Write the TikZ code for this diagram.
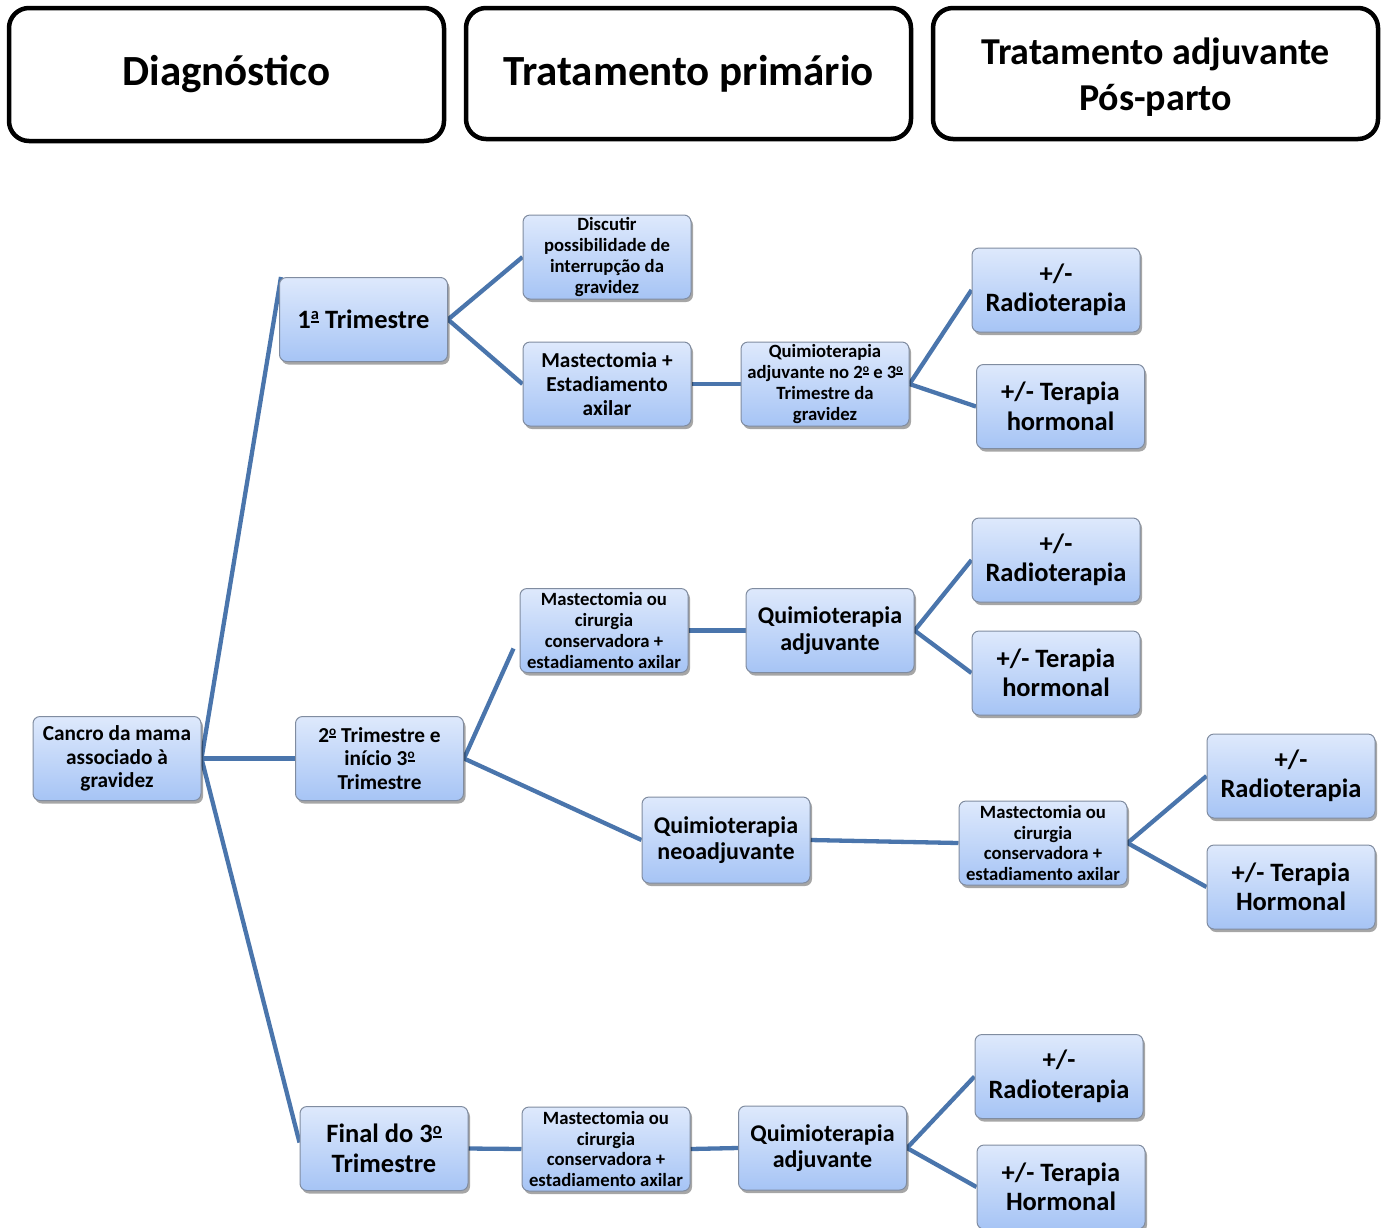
\documentclass[tikz,border=0pt]{standalone}
\usepackage{fontspec}
\usepackage{graphicx}
\setmainfont{Carlito}
\usetikzlibrary{shadows,backgrounds,calc}
\definecolor{topc}{RGB}{222,233,252}
\definecolor{botc}{RGB}{166,196,245}
\definecolor{edgec}{RGB}{128,140,160}
\definecolor{linec}{RGB}{74,117,172}
\newcommand{\ordm}{\raisebox{0.2em}{\scalebox{0.62}{\vbox{\hbox{o}\kern0.08em\hrule height 0.13em}}}}
\newcommand{\orda}{\raisebox{0.2em}{\scalebox{0.62}{\vbox{\hbox{a}\kern0.08em\hrule height 0.13em}}}}
\tikzset{
  box/.style={rounded corners=7pt, draw=edgec, line width=1pt, top color=topc, bottom color=botc,
    minimum width=168pt, minimum height=84pt, align=center, inner sep=0pt, text=black,
    drop shadow={shadow xshift=2pt, shadow yshift=-3pt, fill=black, opacity=0.35}},
  smallt/.style={font=\bfseries\fontsize{18.7}{20.7}\selectfont},
  medt/.style={font=\bfseries\fontsize{21.3}{23.7}\selectfont},
  quimt/.style={font=\bfseries\fontsize{24}{26.5}\selectfont},
  bigt/.style={font=\bfseries\fontsize{26.5}{29.5}\selectfont},
  head/.style={rounded corners=20pt, draw=black, line width=4.5pt, fill=white, align=center,
    font=\bfseries\fontsize{43}{46}\selectfont, inner sep=0pt},
  conn/.style={draw=linec, line width=4.3pt}
}
\begin{document}
\begin{tikzpicture}[x=1pt,y=-1pt]
\useasboundingbox (0,0) rectangle (1384,1227);
% headers
\node[head, minimum width=435pt, minimum height=133pt] (H1) at (226.5,74.5) {Diagnóstico};
\node[head, minimum width=445pt, minimum height=131pt] (H2) at (688.5,73.5) {Tratamento primário};
\node[head, minimum width=445pt, minimum height=131pt] (H3) at (1155.5,73.5) {};
\node[align=center, inner sep=0pt, font=\bfseries\fontsize{38}{46}\selectfont] (H3t) at (1155.5,77) {Tratamento adjuvante\\Pós-parto};
% nodes
\node[box, medt] (root) at (117,758.5) {Cancro da mama\\associado à\\gravidez};
\node[box, bigt] (t1) at (363.5,319.5) {1\orda{} Trimestre};
\node[box, smallt] (d1) at (607,257) {Discutir\\possibilidade de\\interrupção da\\gravidez};
\node[box, medt] (m1) at (607,384) {Mastectomia +\\Estadiamento\\axilar};
\node[box, smallt] (q1) at (825,384) {Quimioterapia\\adjuvante no 2\ordm{} e 3\ordm\\Trimestre da\\gravidez};
\node[box, bigt] (r1) at (1056,290) {+/-\\Radioterapia};
\node[box, bigt] (h1) at (1060.5,406.5) {+/- Terapia\\hormonal};
\node[box, medt] (t2) at (379.5,758.5) {2\ordm{} Trimestre e\\início 3\ordm\\Trimestre};
\node[box, smallt] (m2) at (604,630.5) {Mastectomia ou\\cirurgia\\conservadora +\\estadiamento axilar};
\node[box, quimt] (q2) at (830,630.5) {Quimioterapia\\adjuvante};
\node[box, bigt] (r2) at (1056,560) {+/-\\Radioterapia};
\node[box, bigt] (h2) at (1056,673) {+/- Terapia\\hormonal};
\node[box, quimt, minimum height=86pt] (n2) at (726,840) {Quimioterapia\\neoadjuvante};
\node[box, smallt] (m3) at (1043,843) {Mastectomia ou\\cirurgia\\conservadora +\\estadiamento axilar};
\node[box, bigt] (r3) at (1291,776) {+/-\\Radioterapia};
\node[box, bigt] (h3) at (1291,887) {+/- Terapia\\Hormonal};
\node[box, bigt] (t3) at (384,1148.5) {Final do 3\ordm\\Trimestre};
\node[box, smallt] (m4) at (606,1149) {Mastectomia ou\\cirurgia\\conservadora +\\estadiamento axilar};
\node[box, quimt] (q4) at (822.5,1148) {Quimioterapia\\adjuvante};
\node[box, bigt] (r4) at (1059,1076.5) {+/-\\Radioterapia};
\node[box, bigt] (h4) at (1061,1187) {+/- Terapia\\Hormonal};
% connectors
\begin{scope}[on background layer]
\draw[conn] (root.east) -- ([xshift=2pt]t1.north west);
\draw[conn] (root.east) -- (t2.west);
\draw[conn] (root.east) -- ([yshift=6pt]t3.west);
\draw[conn] (t1.east) -- (d1.west);
\draw[conn] (t1.east) -- (m1.west);
\draw[conn] (m1.east) -- (q1.west);
\draw[conn] (q1.east) -- (r1.west);
\draw[conn] (q1.east) -- (h1.west);
\draw[conn] (t2.east) -- ([xshift=-6pt,yshift=-18pt]m2.west);
\draw[conn] (t2.east) -- (n2.west);
\draw[conn] (m2.east) -- (q2.west);
\draw[conn] (q2.east) -- (r2.west);
\draw[conn] (q2.east) -- (h2.west);
\draw[conn] (n2.east) -- (m3.west);
\draw[conn] (m3.east) -- (r3.west);
\draw[conn] (m3.east) -- (h3.west);
\draw[conn] (t3.east) -- (m4.west);
\draw[conn] (m4.east) -- (q4.west);
\draw[conn] (q4.east) -- (r4.west);
\draw[conn] (q4.east) -- (h4.west);
\end{scope}
\end{tikzpicture}
\end{document}
